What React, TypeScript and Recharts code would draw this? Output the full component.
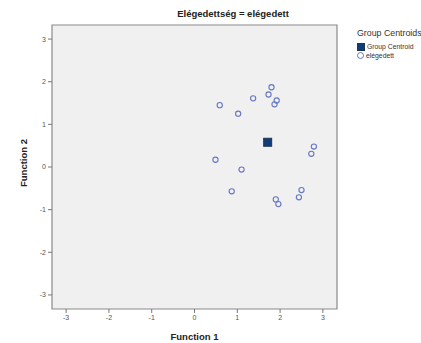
import React from 'react'
import { ScatterChart, Scatter, XAxis, YAxis, ReferenceArea } from 'recharts'

const ticks = [-3, -2, -1, 0, 1, 2, 3]
const caseX = [1.80, 1.73, 1.92, 1.87, 1.37, 0.59, 1.02, 2.79, 2.73, 0.49, 1.10, 0.87, 2.50, 2.44, 1.90, 1.96]
const caseY = [1.87, 1.70, 1.56, 1.47, 1.61, 1.45, 1.25, 0.48, 0.31, 0.17, -0.06, -0.57, -0.54, -0.71, -0.76, -0.87]
const centroid = [{ x: 1.71, y: 0.58 }]
const cases = caseX.map((x, i) => ({ x, y: caseY[i] }))

const font = '"Liberation Sans", Arial, sans-serif'

const Ring = (p: any) => <circle cx={p.cx} cy={p.cy} r={2.6} fill="none" stroke="#6577c4" strokeWidth={1.1} />
const Box = (p: any) => <rect x={p.cx - 4} y={p.cy - 4} width={8} height={8} fill="#0f3d7c" stroke="#23344f" strokeWidth={1} />

function LegendBox() {
  return (
    <div style={{ position: 'absolute', left: 357, top: 28, fontFamily: font, color: '#333', whiteSpace: 'nowrap' }}>
      <div style={{ fontSize: 8.8, marginBottom: 4 }}>Group Centroids</div>
      <div style={{ display: 'flex', alignItems: 'center', fontSize: 6.8, height: 9 }}>
        <span style={{ width: 6, height: 6, background: '#0f3d7c', border: '1px solid #23344f', marginRight: 2 }} />
        Group Centroid
      </div>
      <div style={{ display: 'flex', alignItems: 'center', fontSize: 6.8, height: 9 }}>
        <span style={{ width: 5, height: 5, borderRadius: '50%', border: '1px solid #6577c4', marginRight: 2 }} />
        elégedett
      </div>
    </div>
  )
}

export default function App() {
  const tickStyle = { fill: '#555', fontSize: 7, fontFamily: font }
  return (
    <div style={{ position: 'absolute', left: 0, top: 0, width: 421, height: 343, background: '#fff', overflow: 'hidden' }}>
      <ScatterChart width={421} height={343} margin={{ top: 25, right: 84, bottom: 0, left: 0 }}>
        <XAxis type="number" dataKey="x" domain={[-3.33, 3.33]} ticks={ticks} height={34}
          tick={tickStyle} tickSize={4} axisLine={false} tickLine={{ stroke: '#777' }} allowDataOverflow
          label={{ value: 'Function 1', position: 'insideBottom', offset: 3, fontSize: 9.5, fontWeight: 'bold', fill: '#222', fontFamily: font }} />
        <YAxis type="number" dataKey="y" domain={[-3.33, 3.33]} ticks={ticks} width={52}
          tick={tickStyle} tickSize={4} axisLine={false} tickLine={{ stroke: '#777' }} allowDataOverflow
          label={{ value: 'Function 2', angle: -90, position: 'insideLeft', offset: 24, dy: 20, fontSize: 9.5, fontWeight: 'bold', fill: '#222', fontFamily: font }} />
        <ReferenceArea x1={-3.33} x2={3.33} y1={-3.33} y2={3.33} fill="#f0f0f0" fillOpacity={1} stroke="#8a8a8a" strokeWidth={1.2} />
        <Scatter name="elégedett" data={cases} shape={Ring} isAnimationActive={false} />
        <Scatter name="Group Centroid" data={centroid} shape={Box} isAnimationActive={false} />
        <text x={233} y={17} textAnchor="middle" fontSize={9.5} fontWeight="bold" fill="#222" fontFamily={font}>Elégedettség = elégedett</text>
      </ScatterChart>
      <LegendBox />
    </div>
  )
}
